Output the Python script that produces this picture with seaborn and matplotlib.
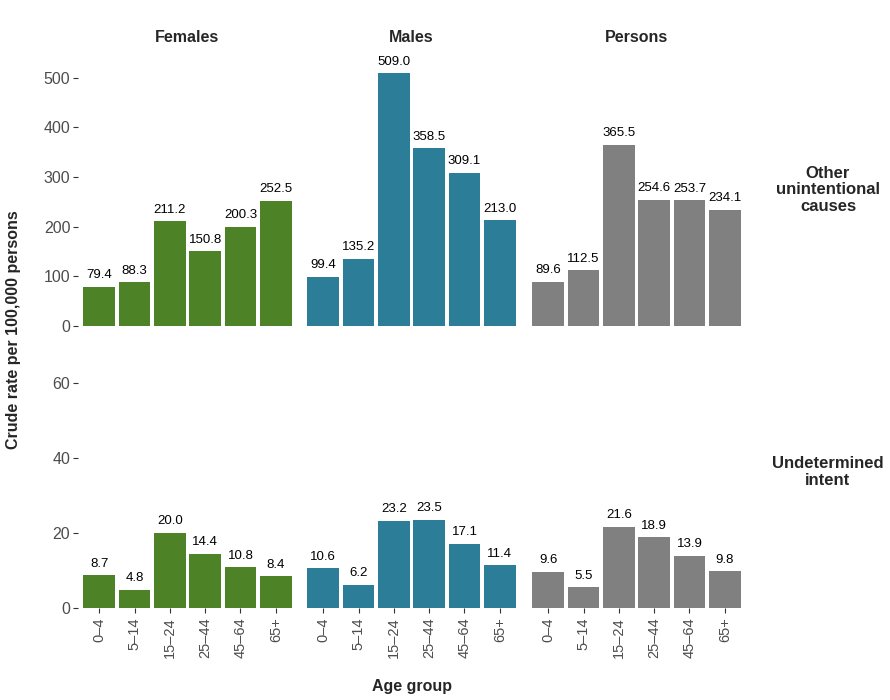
import matplotlib
matplotlib.use("Agg")
import matplotlib.pyplot as plt
import seaborn as sns
import pandas as pd

age_groups = ["0\u20134", "5\u201314", "15\u201324", "25\u201344", "45\u201364", "65+"]
sexes = ["Females", "Males", "Persons"]
causes = ["Other\nunintentional\ncauses", "Undetermined\nintent"]

other_females = [79.4, 88.3, 211.2, 150.8, 200.3, 252.5]
other_males = [99.4, 135.2, 509.0, 358.5, 309.1, 213.0]
other_persons = [89.6, 112.5, 365.5, 254.6, 253.7, 234.1]
undet_females = [8.7, 4.8, 20.0, 14.4, 10.8, 8.4]
undet_males = [10.6, 6.2, 23.2, 23.5, 17.1, 11.4]
undet_persons = [9.6, 5.5, 21.6, 18.9, 13.9, 9.8]

colors = {"Females": "#4E8226", "Males": "#2C7E98", "Persons": "#808080"}

rows = []
for cause, series in zip(causes, [[other_females, other_males, other_persons],
                                  [undet_females, undet_males, undet_persons]]):
    for sex, vals in zip(sexes, series):
        for a, v in zip(age_groups, vals):
            rows.append({"cause": cause, "sex": sex, "age": a, "rate": v})
df = pd.DataFrame(rows)

sns.set_style("white")
plt.rcParams["font.family"] = ["Liberation Sans", "DejaVu Sans"]

W, H = 890, 700
fig = plt.figure(figsize=(W / 100, H / 100), dpi=100)

col_left = [78, 302, 527]
col_w = 219
row_top = [54, 336]
row_h = 272
ylims = [(0, 548), (0, 72.5)]
yticks = [[0, 100, 200, 300, 400, 500], [0, 20, 40, 60]]
tick_col = "#4D4D4D"

for r, cause in enumerate(causes):
    for c, sex in enumerate(sexes):
        ax = fig.add_axes([col_left[c] / W, 1 - (row_top[r] + row_h) / H, col_w / W, row_h / H])
        sub = df[(df.cause == cause) & (df.sex == sex)]
        sns.barplot(data=sub, x="age", y="rate", order=age_groups, color=colors[sex],
                    width=0.9, saturation=1, ax=ax, errorbar=None, linewidth=0)
        ax.set_xlim(-0.6, 5.6)
        ax.set_ylim(*ylims[r])
        for cont in ax.containers:
            ax.bar_label(cont, fmt="%.1f", padding=4, fontsize=9.5, color="black")
        for s in ax.spines.values():
            s.set_visible(False)
        ax.set_xlabel("")
        ax.set_ylabel("")
        ax.set_yticks(yticks[r])
        if c == 0:
            ax.tick_params(axis="y", left=True, length=3.5, width=0.8, color="#333333",
                           labelsize=11.5, labelcolor=tick_col, pad=2)
        else:
            ax.tick_params(axis="y", left=False, labelleft=False)
        if r == 1:
            ax.tick_params(axis="x", bottom=True, length=3.5, width=0.8, color="#333333",
                           labelsize=10.5, labelcolor=tick_col, labelrotation=90, pad=3)
        else:
            ax.tick_params(axis="x", bottom=False, labelbottom=False)
        if r == 0:
            ax.set_title(sex, fontsize=11.5, fontweight="bold", pad=9)
        if c == 2:
            ax.text(1.0 + 82 / col_w, 0.5, cause, transform=ax.transAxes, ha="center",
                    va="center", fontsize=12, fontweight="bold", linespacing=1.12)

fig.text(14 / W, 1 - 330 / H, "Crude rate per 100,000 persons", rotation=90,
         ha="center", va="center", fontsize=11.5, fontweight="bold")
fig.text(412 / W, 1 - 686 / H, "Age group", ha="center", va="center",
         fontsize=11.5, fontweight="bold")

fig.savefig("out.png", dpi=100, facecolor="white")
